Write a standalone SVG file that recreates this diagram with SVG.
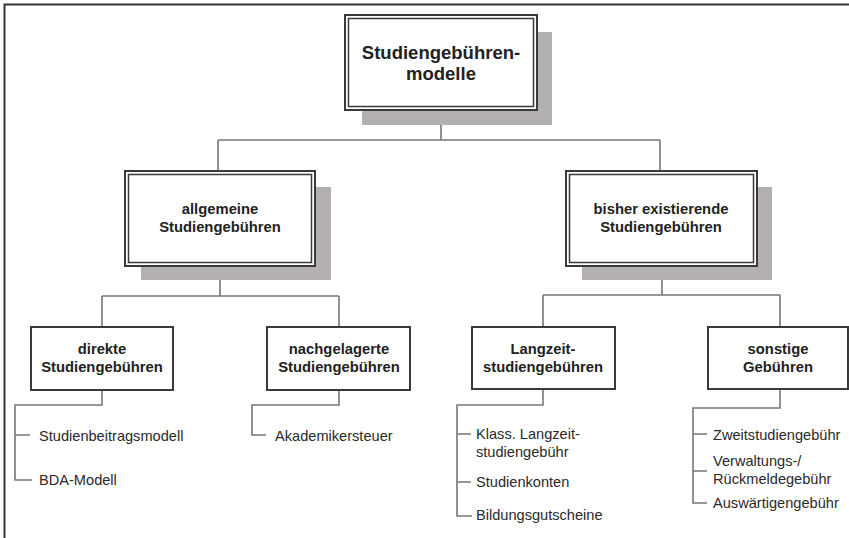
<svg xmlns="http://www.w3.org/2000/svg" width="849" height="538" viewBox="0 0 849 538">
<style>
.frame{stroke:#333;stroke-width:2;fill:none}
.shadow{fill:#b5b0b0}
.box{fill:#fff;stroke:#3a3a3a;stroke-width:2}
.inner{fill:none;stroke:#3a3a3a;stroke-width:1.5}
.con{fill:none;stroke:#7a7676;stroke-width:1.6}
.t1{font-family:"Liberation Sans",Arial,sans-serif;font-weight:bold;font-size:18.5px;fill:#222;text-anchor:middle}
.t2{font-family:"Liberation Sans",Arial,sans-serif;font-weight:bold;font-size:14.8px;fill:#222;text-anchor:middle}
.leaf{font-family:"Liberation Sans",Arial,sans-serif;font-size:14.6px;fill:#2a2a2a}
</style>
<rect width="849" height="538" fill="#fff"/>
<path class="frame" d="M4.5,538 V4.5 H849"/>
<g id="connectors">
<path class="con" d="M441,110 V140 M218,140 H660 M218,140 V171 M660,140 V171"/>
<path class="con" d="M220,266 V296 M102,296 H339 M102,296 V327 M339,296 V327"/>
<path class="con" d="M662,266 V295 M543,295 H780 M543,295 V327 M780,295 V327"/>
<path class="con" d="M102,390 V405 H15 V480 H32 M15,435 H30"/>
<path class="con" d="M339,390 V405 H252 V435 H266"/>
<path class="con" d="M543,389 V405 H457 V516 H472 M457,434 H471 M457,482 H471"/>
<path class="con" d="M780,389 V408 H693 V503 H707 M693,434 H707 M693,471 H707"/>
</g>
<g id="root">
<rect class="shadow" x="362" y="32" width="190" height="93"/>
<rect class="box" x="345" y="15" width="192" height="95"/>
<rect class="inner" x="348.5" y="18.5" width="185" height="88"/>
<text class="t1" x="441" y="59">Studiengebühren-</text>
<text class="t1" x="441" y="80">modelle</text>
</g>
<g id="allgemeine">
<rect class="shadow" x="141" y="187" width="190" height="93"/>
<rect class="box" x="125" y="171" width="190" height="95"/>
<rect class="inner" x="128.5" y="174.5" width="183" height="88"/>
<text class="t2" x="220" y="214">allgemeine</text>
<text class="t2" x="220" y="232">Studiengebühren</text>
</g>
<g id="bisher">
<rect class="shadow" x="582" y="187" width="190" height="93"/>
<rect class="box" x="566" y="171" width="191" height="95"/>
<rect class="inner" x="569.5" y="174.5" width="184" height="88"/>
<text class="t2" x="661" y="214">bisher existierende</text>
<text class="t2" x="661" y="232">Studiengebühren</text>
</g>
<g id="direkte">
<rect class="box" x="31" y="327" width="142" height="63"/>
<text class="t2" x="102" y="354">direkte</text>
<text class="t2" x="102" y="372">Studiengebühren</text>
</g>
<g id="nachgelagerte">
<rect class="box" x="267" y="327" width="143" height="63"/>
<text class="t2" x="339" y="354">nachgelagerte</text>
<text class="t2" x="339" y="372">Studiengebühren</text>
</g>
<g id="langzeit">
<rect class="box" x="472" y="327" width="143" height="62"/>
<text class="t2" x="543" y="354">Langzeit-</text>
<text class="t2" x="543" y="372">studiengebühren</text>
</g>
<g id="sonstige">
<rect class="box" x="708" y="327" width="140" height="62"/>
<text class="t2" x="778" y="354">sonstige</text>
<text class="t2" x="778" y="372">Gebühren</text>
</g>
<g id="leaves">
<text class="leaf" x="39" y="441">Studienbeitragsmodell</text>
<text class="leaf" x="39" y="485">BDA-Modell</text>
<text class="leaf" x="275" y="441">Akademikersteuer</text>
<text class="leaf" x="476" y="439">Klass. Langzeit-</text>
<text class="leaf" x="476" y="457">studiengebühr</text>
<text class="leaf" x="476" y="487">Studienkonten</text>
<text class="leaf" x="476" y="520">Bildungsgutscheine</text>
<text class="leaf" x="713" y="440">Zweitstudiengebühr</text>
<text class="leaf" x="713" y="466">Verwaltungs-/</text>
<text class="leaf" x="713" y="484">Rückmeldegebühr</text>
<text class="leaf" x="713" y="508">Auswärtigengebühr</text>
</g>
</svg>
